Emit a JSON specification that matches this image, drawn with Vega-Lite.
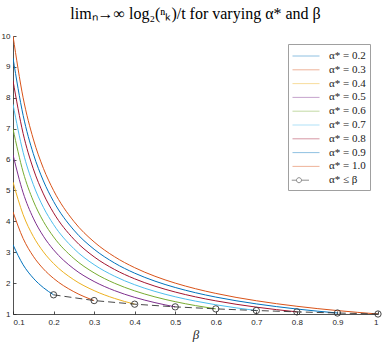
{
  "$schema": "https://vega.github.io/schema/vega-lite/v6.json",
  "width": 365,
  "height": 278,
  "autosize": {"type": "none"},
  "padding": {"left": 13, "top": 36, "right": 4, "bottom": 30},
  "background": "white",
  "title": {"text": "limₙ→∞ log₂(ⁿₖ)/t  for varying α* and β", "font": "Liberation Serif", "fontSize": 16, "fontWeight": "normal", "color": "black", "offset": 10, "anchor": "middle"},
  "config": {
    "view": {"stroke": null},
    "axis": {"grid": false, "domainColor": "#262626", "tickColor": "#262626", "labelColor": "#262626", "labelFont": "Liberation Sans", "labelFontSize": 8, "tickSize": -3, "domainWidth": 0.8, "tickWidth": 0.8}
  },
  "resolve": {"legend": {"color": "independent", "shape": "independent"}},
  "datasets": {
    "curves": [
      {"s": "α* = 0.2", "b": 0.1, "v": 3.241}, {"s": "α* = 0.2", "b": 0.125, "v": 2.593}, {"s": "α* = 0.2", "b": 0.15, "v": 2.161}, {"s": "α* = 0.2", "b": 0.175, "v": 1.852}, {"s": "α* = 0.2", "b": 0.2, "v": 1.621},
      {"s": "α* = 0.3", "b": 0.1, "v": 4.305}, {"s": "α* = 0.3", "b": 0.125, "v": 3.444}, {"s": "α* = 0.3", "b": 0.15, "v": 2.87}, {"s": "α* = 0.3", "b": 0.175, "v": 2.46}, {"s": "α* = 0.3", "b": 0.2, "v": 2.153}, {"s": "α* = 0.3", "b": 0.25, "v": 1.722}, {"s": "α* = 0.3", "b": 0.3, "v": 1.435},
      {"s": "α* = 0.4", "b": 0.1, "v": 5.27}, {"s": "α* = 0.4", "b": 0.125, "v": 4.216}, {"s": "α* = 0.4", "b": 0.15, "v": 3.513}, {"s": "α* = 0.4", "b": 0.175, "v": 3.011}, {"s": "α* = 0.4", "b": 0.2, "v": 2.635}, {"s": "α* = 0.4", "b": 0.25, "v": 2.108}, {"s": "α* = 0.4", "b": 0.3, "v": 1.757}, {"s": "α* = 0.4", "b": 0.35, "v": 1.506}, {"s": "α* = 0.4", "b": 0.4, "v": 1.318},
      {"s": "α* = 0.5", "b": 0.1, "v": 6.156}, {"s": "α* = 0.5", "b": 0.125, "v": 4.925}, {"s": "α* = 0.5", "b": 0.15, "v": 4.104}, {"s": "α* = 0.5", "b": 0.175, "v": 3.518}, {"s": "α* = 0.5", "b": 0.2, "v": 3.078}, {"s": "α* = 0.5", "b": 0.25, "v": 2.462}, {"s": "α* = 0.5", "b": 0.3, "v": 2.052}, {"s": "α* = 0.5", "b": 0.35, "v": 1.759}, {"s": "α* = 0.5", "b": 0.4, "v": 1.539}, {"s": "α* = 0.5", "b": 0.45, "v": 1.368}, {"s": "α* = 0.5", "b": 0.5, "v": 1.231},
      {"s": "α* = 0.6", "b": 0.1, "v": 6.994}, {"s": "α* = 0.6", "b": 0.125, "v": 5.595}, {"s": "α* = 0.6", "b": 0.15, "v": 4.663}, {"s": "α* = 0.6", "b": 0.175, "v": 3.997}, {"s": "α* = 0.6", "b": 0.2, "v": 3.497}, {"s": "α* = 0.6", "b": 0.25, "v": 2.798}, {"s": "α* = 0.6", "b": 0.3, "v": 2.331}, {"s": "α* = 0.6", "b": 0.35, "v": 1.998}, {"s": "α* = 0.6", "b": 0.4, "v": 1.749}, {"s": "α* = 0.6", "b": 0.45, "v": 1.554}, {"s": "α* = 0.6", "b": 0.5, "v": 1.399}, {"s": "α* = 0.6", "b": 0.55, "v": 1.272}, {"s": "α* = 0.6", "b": 0.6, "v": 1.166},
      {"s": "α* = 0.7", "b": 0.1, "v": 7.791}, {"s": "α* = 0.7", "b": 0.125, "v": 6.233}, {"s": "α* = 0.7", "b": 0.15, "v": 5.194}, {"s": "α* = 0.7", "b": 0.175, "v": 4.452}, {"s": "α* = 0.7", "b": 0.2, "v": 3.896}, {"s": "α* = 0.7", "b": 0.25, "v": 3.116}, {"s": "α* = 0.7", "b": 0.3, "v": 2.597}, {"s": "α* = 0.7", "b": 0.35, "v": 2.226}, {"s": "α* = 0.7", "b": 0.4, "v": 1.948}, {"s": "α* = 0.7", "b": 0.45, "v": 1.731}, {"s": "α* = 0.7", "b": 0.5, "v": 1.558}, {"s": "α* = 0.7", "b": 0.55, "v": 1.417}, {"s": "α* = 0.7", "b": 0.6, "v": 1.299}, {"s": "α* = 0.7", "b": 0.65, "v": 1.199}, {"s": "α* = 0.7", "b": 0.7, "v": 1.113},
      {"s": "α* = 0.8", "b": 0.1, "v": 8.554}, {"s": "α* = 0.8", "b": 0.125, "v": 6.843}, {"s": "α* = 0.8", "b": 0.15, "v": 5.703}, {"s": "α* = 0.8", "b": 0.175, "v": 4.888}, {"s": "α* = 0.8", "b": 0.2, "v": 4.277}, {"s": "α* = 0.8", "b": 0.25, "v": 3.422}, {"s": "α* = 0.8", "b": 0.3, "v": 2.851}, {"s": "α* = 0.8", "b": 0.35, "v": 2.444}, {"s": "α* = 0.8", "b": 0.4, "v": 2.139}, {"s": "α* = 0.8", "b": 0.45, "v": 1.901}, {"s": "α* = 0.8", "b": 0.5, "v": 1.711}, {"s": "α* = 0.8", "b": 0.55, "v": 1.555}, {"s": "α* = 0.8", "b": 0.6, "v": 1.426}, {"s": "α* = 0.8", "b": 0.65, "v": 1.316}, {"s": "α* = 0.8", "b": 0.7, "v": 1.222}, {"s": "α* = 0.8", "b": 0.75, "v": 1.141}, {"s": "α* = 0.8", "b": 0.8, "v": 1.069},
      {"s": "α* = 0.9", "b": 0.1, "v": 9.289}, {"s": "α* = 0.9", "b": 0.125, "v": 7.431}, {"s": "α* = 0.9", "b": 0.15, "v": 6.193}, {"s": "α* = 0.9", "b": 0.175, "v": 5.308}, {"s": "α* = 0.9", "b": 0.2, "v": 4.645}, {"s": "α* = 0.9", "b": 0.25, "v": 3.716}, {"s": "α* = 0.9", "b": 0.3, "v": 3.096}, {"s": "α* = 0.9", "b": 0.35, "v": 2.654}, {"s": "α* = 0.9", "b": 0.4, "v": 2.322}, {"s": "α* = 0.9", "b": 0.45, "v": 2.064}, {"s": "α* = 0.9", "b": 0.5, "v": 1.858}, {"s": "α* = 0.9", "b": 0.55, "v": 1.689}, {"s": "α* = 0.9", "b": 0.6, "v": 1.548}, {"s": "α* = 0.9", "b": 0.65, "v": 1.429}, {"s": "α* = 0.9", "b": 0.7, "v": 1.327}, {"s": "α* = 0.9", "b": 0.75, "v": 1.239}, {"s": "α* = 0.9", "b": 0.8, "v": 1.161}, {"s": "α* = 0.9", "b": 0.85, "v": 1.093}, {"s": "α* = 0.9", "b": 0.9, "v": 1.032},
      {"s": "α* = 1.0", "b": 0.1, "v": 10}, {"s": "α* = 1.0", "b": 0.125, "v": 8}, {"s": "α* = 1.0", "b": 0.15, "v": 6.667}, {"s": "α* = 1.0", "b": 0.175, "v": 5.714}, {"s": "α* = 1.0", "b": 0.2, "v": 5}, {"s": "α* = 1.0", "b": 0.25, "v": 4}, {"s": "α* = 1.0", "b": 0.3, "v": 3.333}, {"s": "α* = 1.0", "b": 0.35, "v": 2.857}, {"s": "α* = 1.0", "b": 0.4, "v": 2.5}, {"s": "α* = 1.0", "b": 0.45, "v": 2.222}, {"s": "α* = 1.0", "b": 0.5, "v": 2}, {"s": "α* = 1.0", "b": 0.55, "v": 1.818}, {"s": "α* = 1.0", "b": 0.6, "v": 1.667}, {"s": "α* = 1.0", "b": 0.65, "v": 1.538}, {"s": "α* = 1.0", "b": 0.7, "v": 1.429}, {"s": "α* = 1.0", "b": 0.75, "v": 1.333}, {"s": "α* = 1.0", "b": 0.8, "v": 1.25}, {"s": "α* = 1.0", "b": 0.85, "v": 1.176}, {"s": "α* = 1.0", "b": 0.9, "v": 1.111}, {"s": "α* = 1.0", "b": 0.95, "v": 1.053}, {"s": "α* = 1.0", "b": 1.0, "v": 1}
    ],
    "bound": [
      {"s": "α* ≤ β", "b": 0.2, "v": 1.621}, {"s": "α* ≤ β", "b": 0.3, "v": 1.435}, {"s": "α* ≤ β", "b": 0.4, "v": 1.318}, {"s": "α* ≤ β", "b": 0.5, "v": 1.231}, {"s": "α* ≤ β", "b": 0.6, "v": 1.166}, {"s": "α* ≤ β", "b": 0.7, "v": 1.113}, {"s": "α* ≤ β", "b": 0.8, "v": 1.069}, {"s": "α* ≤ β", "b": 0.9, "v": 1.032}, {"s": "α* ≤ β", "b": 1.0, "v": 1.0}
    ]
  },
  "encoding": {
    "x": {"field": "b", "type": "quantitative", "scale": {"domain": [0.1, 1], "nice": false, "zero": false},
      "axis": {"values": [0.1, 0.2, 0.3, 0.4, 0.5, 0.6, 0.7, 0.8, 0.9, 1], "format": ".1~f", "labelPadding": 7, "title": "β", "titleFont": "Liberation Serif", "titleFontStyle": "italic", "titleFontWeight": "normal", "titleFontSize": 13, "titleColor": "#262626", "titlePadding": 2}},
    "y": {"field": "v", "type": "quantitative", "scale": {"domain": [1, 10], "nice": false, "zero": false},
      "axis": {"values": [1, 2, 3, 4, 5, 6, 7, 8, 9, 10], "format": "d", "labelPadding": 6, "title": null}}
  },
  "layer": [
    {
      "data": {"name": "curves"},
      "mark": {"type": "line", "strokeWidth": 1, "interpolate": "monotone", "clip": true},
      "encoding": {
        "color": {"field": "s", "type": "nominal", "legend": null,
          "scale": {"domain": ["α* = 0.2", "α* = 0.3", "α* = 0.4", "α* = 0.5", "α* = 0.6", "α* = 0.7", "α* = 0.8", "α* = 0.9", "α* = 1.0", "α* ≤ β"],
            "range": ["#0072BD", "#D95319", "#EDB120", "#7E2F8E", "#77AC30", "#4DBEEE", "#A2142F", "#0072BD", "#D95319", "#000000"]}}
      }
    },
    {
      "data": {"name": "bound"},
      "mark": {"type": "line", "strokeWidth": 0.9, "strokeDash": [7, 4], "color": "#333333"},
      "encoding": {}
    },
    {
      "data": {"name": "bound"},
      "mark": {"type": "point", "filled": false, "size": 40, "strokeWidth": 0.9, "color": "#333333", "opacity": 1, "clip": false},
      "encoding": {}
    },
    {
      "data": {"name": "bound"},
      "mark": {"type": "point", "filled": false, "opacity": 0, "strokeWidth": 0.8},
      "encoding": {
        "color": {"field": "s", "type": "nominal",
          "scale": {"domain": ["α* = 0.2", "α* = 0.3", "α* = 0.4", "α* = 0.5", "α* = 0.6", "α* = 0.7", "α* = 0.8", "α* = 0.9", "α* = 1.0", "α* ≤ β"],
            "range": ["#0072BD", "#D95319", "#EDB120", "#7E2F8E", "#77AC30", "#4DBEEE", "#A2142F", "#0072BD", "#D95319", "#000000"]},
          "legend": {"title": null, "orient": "top-right", "offset": 8, "fillColor": "white", "strokeColor": "#a0a0a0", "padding": 4, "symbolSize": 225, "symbolStrokeWidth": 0.8, "symbolOffset": 6, "labelOffset": 15, "labelFont": "Liberation Serif", "labelFontSize": 11, "labelFontWeight": "normal", "labelColor": "#1a1a1a", "rowPadding": 0.8, "symbolFillColor": "transparent", "symbolOpacity": 0.55}},
        "shape": {"field": "s", "type": "nominal",
          "scale": {"domain": ["α* = 0.2", "α* = 0.3", "α* = 0.4", "α* = 0.5", "α* = 0.6", "α* = 0.7", "α* = 0.8", "α* = 0.9", "α* = 1.0", "α* ≤ β"],
            "range": ["M-1.8,0L1.8,0", "M-1.8,0L1.8,0", "M-1.8,0L1.8,0", "M-1.8,0L1.8,0", "M-1.8,0L1.8,0", "M-1.8,0L1.8,0", "M-1.8,0L1.8,0", "M-1.8,0L1.8,0", "M-1.8,0L1.8,0", "M-1.9,0L-1.27,0M-0.6,0L0.4,0M-1.27,0A0.33,0.33,0,1,1,-0.6,0A0.33,0.33,0,1,1,-1.27,0"]},
          "legend": {"title": null, "orient": "top-right", "offset": 8, "fillColor": "white", "strokeColor": "#a0a0a0", "padding": 4, "symbolSize": 225, "symbolStrokeWidth": 0.8, "symbolOffset": 6, "labelOffset": 15, "labelFont": "Liberation Serif", "labelFontSize": 11, "labelFontWeight": "normal", "labelColor": "#1a1a1a", "rowPadding": 0.8, "symbolFillColor": "transparent", "symbolOpacity": 0.55}}
      }
    }
  ]
}
